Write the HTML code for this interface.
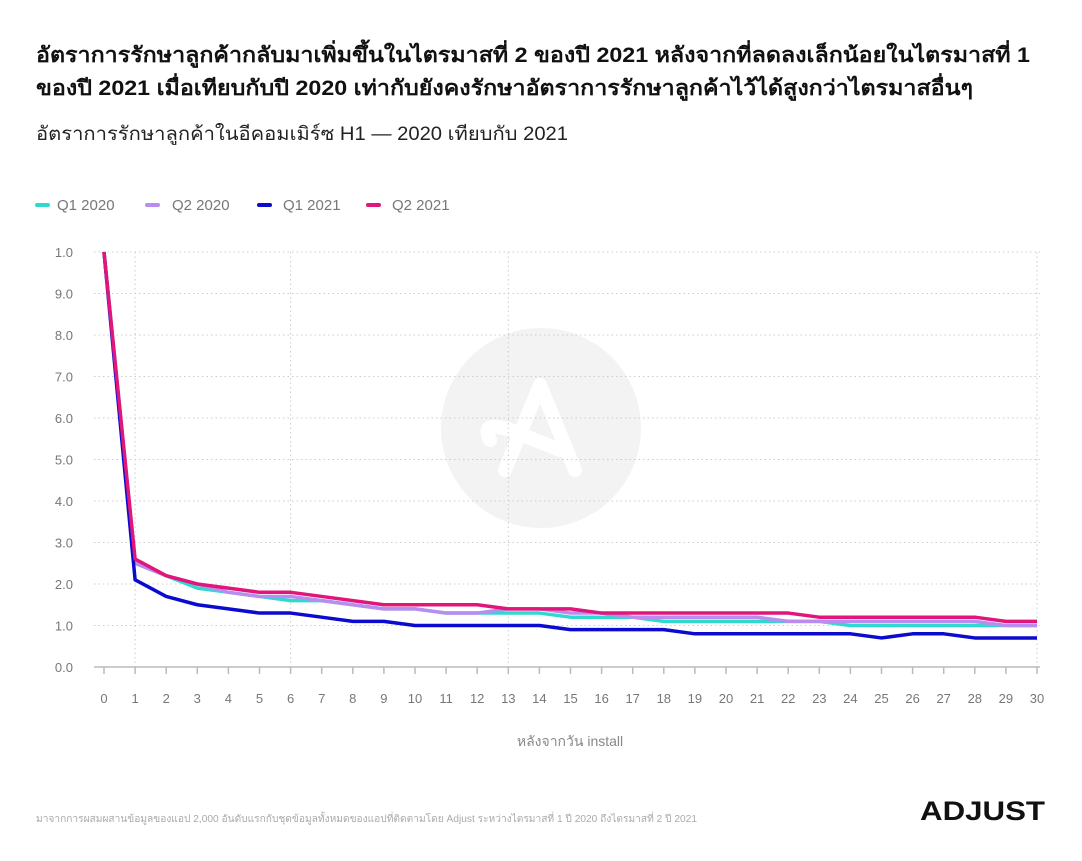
<!DOCTYPE html>
<html><head><meta charset="utf-8"><style>
body{margin:0;background:#fff;}
svg text{font-family:"Liberation Sans","Noto Sans CJK SC",sans-serif;}
</style></head><body>
<svg id="s" width="1082" height="856" viewBox="0 0 1082 856" xmlns="http://www.w3.org/2000/svg">
<rect width="1082" height="856" fill="#fff"/>
<text x="36" y="62" font-size="21" font-weight="bold" fill="#111" textLength="994" lengthAdjust="spacingAndGlyphs">อัตราการรักษาลูกค้ากลับมาเพิ่มขึ้นในไตรมาสที่ 2 ของปี 2021 หลังจากที่ลดลงเล็กน้อยในไตรมาสที่ 1</text>
<text x="36" y="95" font-size="21" font-weight="bold" fill="#111" textLength="937" lengthAdjust="spacingAndGlyphs">ของปี 2021 เมื่อเทียบกับปี 2020 เท่ากับยังคงรักษาอัตราการรักษาลูกค้าไว้ได้สูงกว่าไตรมาสอื่นๆ</text>
<text x="36" y="140" font-size="19" fill="#222" textLength="532" lengthAdjust="spacingAndGlyphs">อัตราการรักษาลูกค้าในอีคอมเมิร์ซ H1 — 2020 เทียบกับ 2021</text>
<g font-size="15" fill="#777">
<rect x="35" y="203" width="15" height="4" rx="2" fill="#2fd9d0"/><text x="57" y="210">Q1 2020</text>
<rect x="145" y="203" width="15" height="4" rx="2" fill="#bb8cf0"/><text x="172" y="210">Q2 2020</text>
<rect x="257" y="203" width="15" height="4" rx="2" fill="#0b0bcf"/><text x="283" y="210">Q1 2021</text>
<rect x="366" y="203" width="15" height="4" rx="2" fill="#e0167a"/><text x="392" y="210">Q2 2021</text>
</g>
<circle cx="541" cy="428" r="100" fill="#f3f3f3"/>
<path d="M505 470 L540 385 L575 470 M490 440 Q480 420 510 430 L560 450" stroke="#fff" stroke-width="14" fill="none" stroke-linecap="round" stroke-linejoin="round"/>
<g id="grid"></g>
<g id="lines"></g>
<text x="570" y="746" font-size="14" fill="#888" text-anchor="middle">หลังจากวัน install</text>
<text x="36" y="822" font-size="10" fill="#aaa" textLength="661" lengthAdjust="spacingAndGlyphs">มาจากการผสมผสานข้อมูลของแอป 2,000 อันดับแรกกับชุดข้อมูลทั้งหมดของแอปที่ติดตามโดย Adjust ระหว่างไตรมาสที่ 1 ปี 2020 ถึงไตรมาสที่ 2 ปี 2021</text>
<text x="920" y="820" font-size="27" font-weight="bold" fill="#111" textLength="125" lengthAdjust="spacingAndGlyphs">ADJUST</text>
</svg>
<script>
var X=function(i){return 104+31.1*i},Y=function(v){return 667-41.5*v};
var g='';
var ylab=['0.0','1.0','2.0','3.0','4.0','5.0','6.0','7.0','8.0','9.0','1.0'];
for(var k=0;k<=10;k++){var y=Y(k);
 if(k>0)g+='<line x1="94" x2="1040" y1="'+y+'" y2="'+y+'" stroke="#ccc" stroke-dasharray="1.5,3"/>';
 g+='<text x="73" y="'+(y+5)+'" font-size="13" fill="#777" text-anchor="end">'+ylab[k]+'</text>';}
[1,6,13,30].forEach(function(i){g+='<line x1="'+X(i)+'" x2="'+X(i)+'" y1="252" y2="667" stroke="#ccc" stroke-dasharray="1.5,3"/>';});
g+='<line x1="94" x2="1040" y1="667" y2="667" stroke="#bbb" stroke-width="1.5"/>';
for(var i=0;i<=30;i++){g+='<line x1="'+X(i)+'" x2="'+X(i)+'" y1="667" y2="674" stroke="#bbb" stroke-width="1.5"/>';
 g+='<text x="'+X(i)+'" y="703" font-size="13" fill="#777" text-anchor="middle">'+i+'</text>';}
document.getElementById('grid').innerHTML=g;
var D={
'#2fd9d0':[10,2.5,2.2,1.9,1.8,1.7,1.6,1.6,1.5,1.4,1.4,1.3,1.3,1.3,1.3,1.2,1.2,1.2,1.1,1.1,1.1,1.1,1.1,1.1,1.0,1.0,1.0,1.0,1.0,1.0,1.0],
'#bb8cf0':[10,2.5,2.2,2.0,1.8,1.7,1.7,1.6,1.5,1.4,1.4,1.3,1.3,1.4,1.4,1.3,1.3,1.2,1.2,1.2,1.2,1.2,1.1,1.1,1.1,1.1,1.1,1.1,1.1,1.0,1.0],
'#0b0bcf':[10,2.1,1.7,1.5,1.4,1.3,1.3,1.2,1.1,1.1,1.0,1.0,1.0,1.0,1.0,0.9,0.9,0.9,0.9,0.8,0.8,0.8,0.8,0.8,0.8,0.7,0.8,0.8,0.7,0.7,0.7],
'#e0167a':[10,2.6,2.2,2.0,1.9,1.8,1.8,1.7,1.6,1.5,1.5,1.5,1.5,1.4,1.4,1.4,1.3,1.3,1.3,1.3,1.3,1.3,1.3,1.2,1.2,1.2,1.2,1.2,1.2,1.1,1.1]};
var l='';
for(var c in D){l+='<polyline fill="none" stroke="'+c+'" stroke-width="3.5" stroke-linejoin="round" points="'+D[c].map(function(v,i){return X(i)+','+Y(v)}).join(' ')+'"/>';}
document.getElementById('lines').innerHTML=l;
</script>
</body></html>
